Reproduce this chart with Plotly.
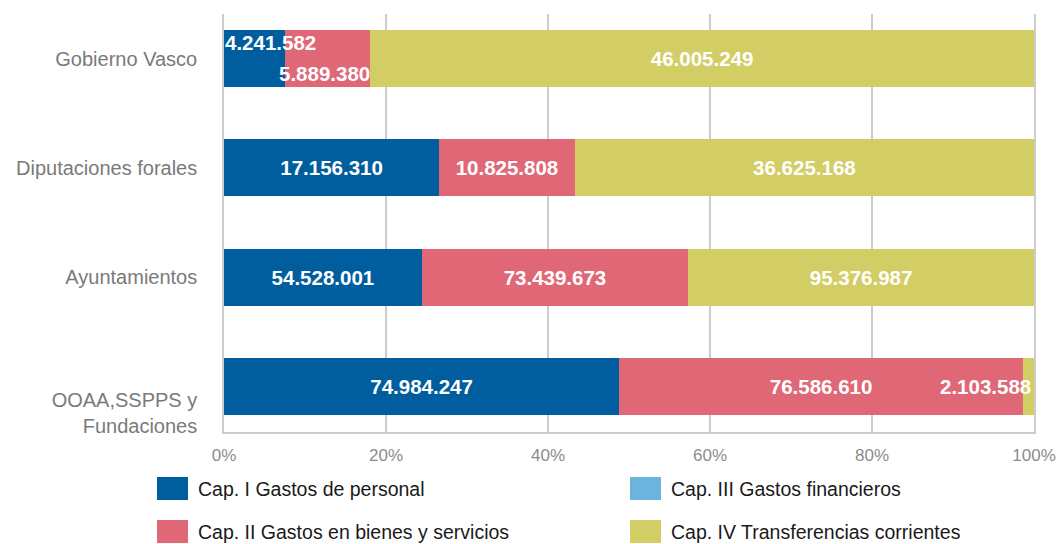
import plotly.graph_objects as go

categories = ["Gobierno Vasco", "Diputaciones forales", "Ayuntamientos", "OOAA,SSPPS y Fundaciones"]
tick_labels = ["Gobierno Vasco", "Diputaciones forales", "Ayuntamientos", "<br><br>OOAA,SSPPS y<br>Fundaciones"]
series_names = ["Cap. I Gastos de personal", "Cap. II Gastos en bienes y servicios",
                "Cap. III Gastos financieros", "Cap. IV Transferencias corrientes"]
cap1 = [4241582, 17156310, 54528001, 74984247]
cap2 = [5889380, 10825808, 73439673, 76586610]
cap3 = [0, 0, 0, 0]
cap4 = [46005249, 36625168, 95376987, 2103588]
x_ticks = [0, 20, 40, 60, 80, 100]

colors = ["#005d9e", "#e06876", "#6cb4de", "#d3cd66"]
series = [cap1, cap2, cap3, cap4]

FONT = "Liberation Sans, Arial, Helvetica, sans-serif"
LBL = dict(family=FONT, size=20.5, color="white", weight="bold")

def fmt(v):
    return f"{v:,}".replace(",", ".")

totals = [sum(s[i] for s in series) for i in range(len(categories))]
pcts = [[s[i] / totals[i] * 100 for i in range(len(categories))] for s in series]

fig = go.Figure()
annotations = []
SMALL = 12.0
for k, (name, vals, col) in enumerate(zip(series_names, series, colors)):
    texts = []
    for i, v in enumerate(vals):
        if v == 0 or pcts[k][i] < SMALL:
            texts.append("")
        else:
            texts.append(fmt(v))
    fig.add_trace(go.Bar(
        y=categories, x=pcts[k], name=name, orientation="h",
        marker=dict(color=col, line=dict(width=0)),
        text=texts, textposition="inside", insidetextanchor="middle",
        textangle=0, constraintext="none",
        textfont=LBL,
        width=0.52, showlegend=False, hoverinfo="skip",
    ))

# overflow labels for thin segments
for i, cat in enumerate(categories):
    start = 0.0
    small_idx = []
    for k in range(len(series)):
        if series[k][i] > 0 and pcts[k][i] < SMALL:
            small_idx.append((k, start, start + pcts[k][i]))
        start += pcts[k][i]
    if len(small_idx) >= 2:
        k0, s0, e0 = small_idx[0]
        annotations.append(dict(x=s0, y=cat, xref="x", yref="y", text=fmt(series[k0][i]),
                                xanchor="left", yanchor="middle", xshift=-1, yshift=16.5,
                                showarrow=False, font=LBL))
        k1, s1, e1 = small_idx[1]
        annotations.append(dict(x=e1, y=cat, xref="x", yref="y", text=fmt(series[k1][i]),
                                xanchor="right", yanchor="middle", xshift=2, yshift=-15,
                                showarrow=False, font=LBL))
    elif len(small_idx) == 1:
        k0, s0, e0 = small_idx[0]
        annotations.append(dict(x=min(e0, 100), y=cat, xref="x", yref="y", text=fmt(series[k0][i]),
                                xanchor="right", yanchor="middle", xshift=-1, yshift=0,
                                showarrow=False, font=LBL))

# manual legend (2 columns x 2 rows)
W0, PW, T0, PH = 224, 810, 14, 418
def px(x):
    return (x - W0) / PW
def py(y):
    return (T0 + PH - y) / PH

legend_layout = [(0, 0), (1, 0), (0, 1), (1, 1)]  # (row, col) for each series
col_x = [157, 630]
row_y = [477, 520]
shapes = []
for k, name in enumerate(series_names):
    r, c = legend_layout[k]
    x0 = col_x[c]
    y0 = row_y[r]
    shapes.append(dict(type="rect", xref="paper", yref="paper",
                       x0=px(x0), x1=px(x0 + 31), y0=py(y0), y1=py(y0 + 23),
                       fillcolor=colors[k], line=dict(width=0), layer="above"))
    annotations.append(dict(x=px(x0 + 39), y=py(y0 + 12), xref="paper", yref="paper",
                            text=name, showarrow=False, xanchor="left", yanchor="middle",
                            font=dict(family=FONT, size=19.5, color="#1a1a1a")))

fig.update_layout(
    barmode="stack",
    width=1057, height=544,
    margin=dict(l=224, r=23, t=14, b=112),
    paper_bgcolor="white", plot_bgcolor="white",
    showlegend=False,
    annotations=annotations,
    shapes=shapes,
    xaxis=dict(range=[0, 100], tickvals=x_ticks, ticktext=[f"{t}%" for t in x_ticks],
               showgrid=True, gridcolor="#cccccc", gridwidth=1.5,
               showline=True, linecolor="#cccccc", linewidth=1.5,
               zeroline=False, ticks="", ticklabelstandoff=7, automargin=False,
               tickfont=dict(family=FONT, size=17, color="#8c8c8c")),
    yaxis=dict(categoryorder="array", categoryarray=categories,
               tickvals=categories, ticktext=tick_labels,
               range=[3.416, -0.407], showgrid=False, zeroline=False,
               showline=True, mirror=True, linecolor="#cccccc", linewidth=1.5,
               ticks="", ticklabelstandoff=21, automargin=False,
               tickfont=dict(family=FONT, size=20, color="#7a7a7a")),
)

fig.write_html("out.html", post_script="document.body.style.margin='0';",
               config={"displayModeBar": False})
